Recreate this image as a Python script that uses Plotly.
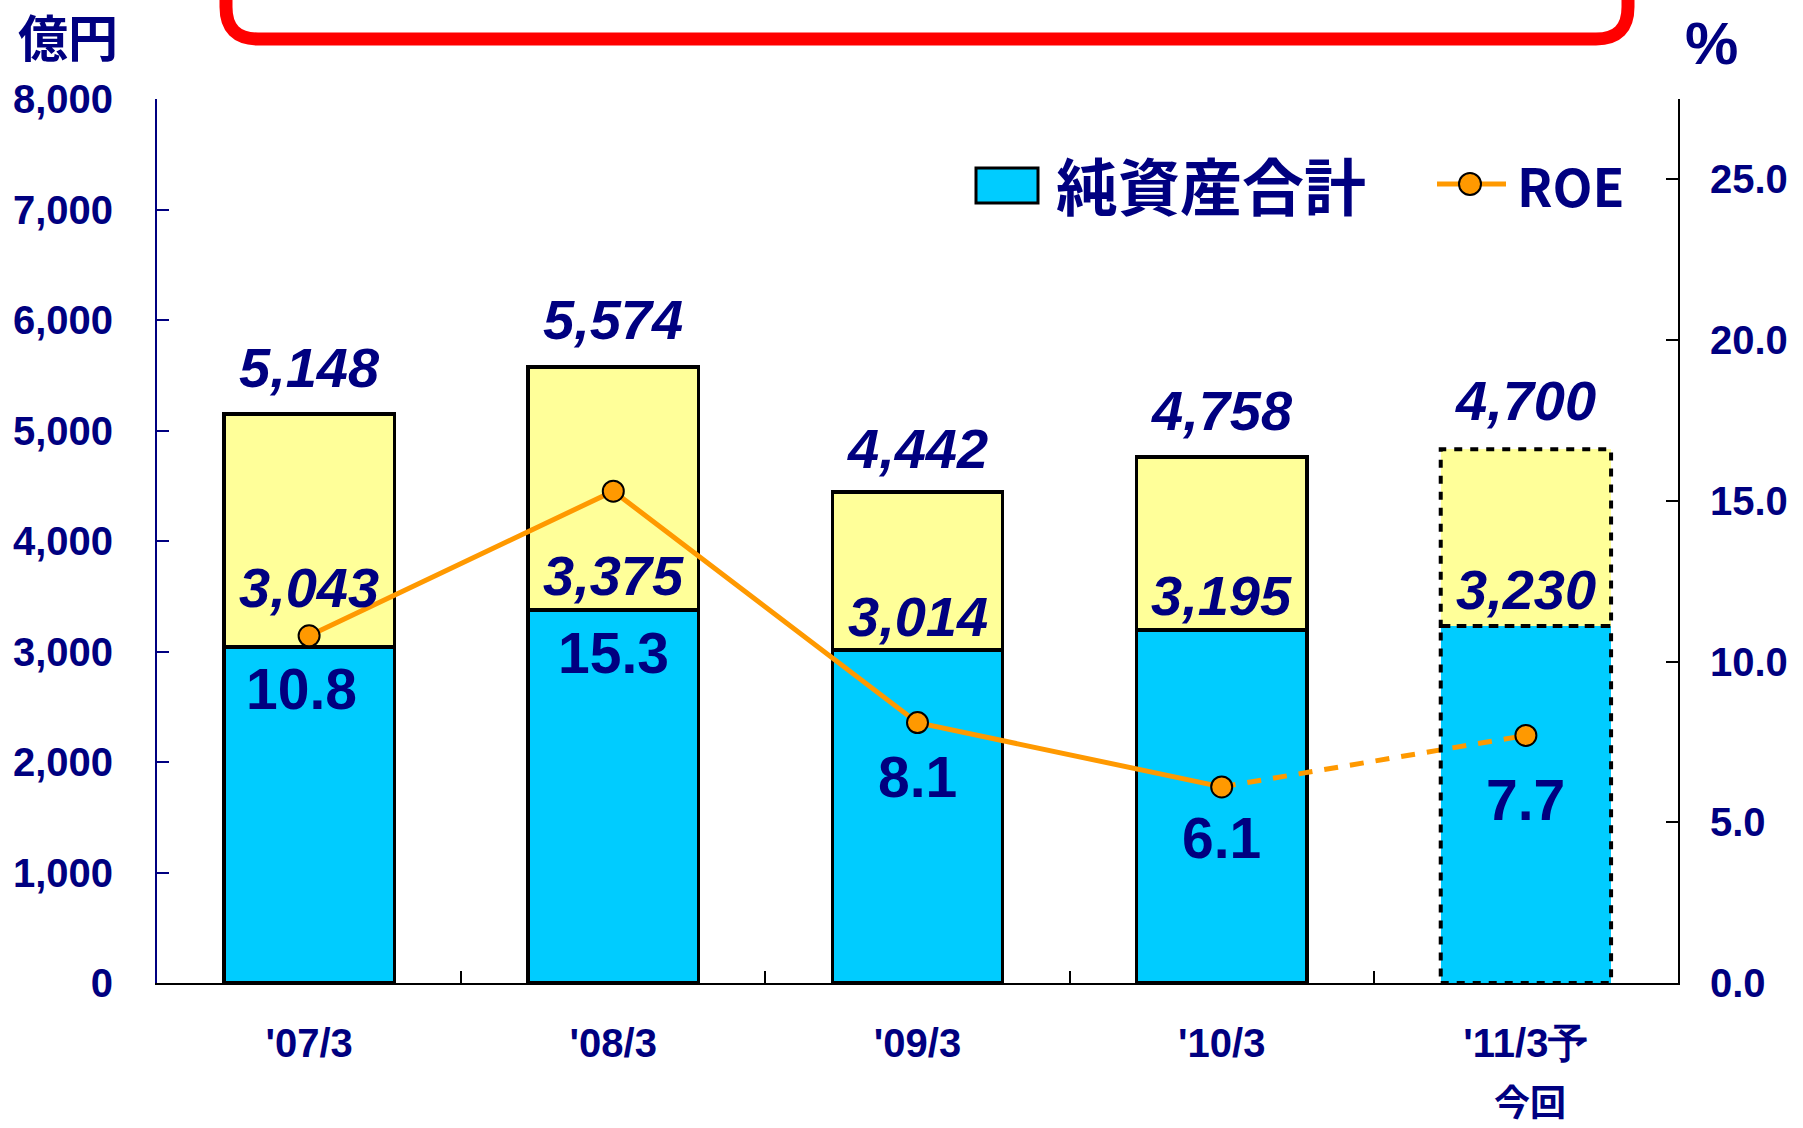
import plotly.graph_objects as go

# ---- data ----
categories = ["'07/3", "'08/3", "'09/3", "'10/3", "'11/3予"]
sub_labels = ["", "", "", "", "今回"]
equity = [3043, 3375, 3014, 3195, 3230]
total = [5148, 5574, 4442, 4758, 4830]          # drawn bar tops
total_labels = ["5,148", "5,574", "4,442", "4,758", "4,700"]
roe = [10.8, 15.3, 8.1, 6.1, 7.7]
forecast = [False, False, False, False, True]

# ---- style ----
NAVY = "#000080"
CYAN = "#00CCFF"
YELLOW = "#FFFF99"
ORANGE = "#FF9900"
NUMF = "Liberation Sans, Arial, sans-serif"
CJKF = "Noto Sans CJK JP, sans-serif"
BAR_W = 0.56

FW, FH = 1803, 1128
# plot area in pixels
L, R, T, B = 157, 1678, 99, 983
W, H = R - L, B - T
def PX(x): return (x - L) / W
def PY(y): return (B - y) / H

idx = list(range(len(categories)))
other = [t - e for t, e in zip(total, equity)]
line_w = [0 if f else 3.5 for f in forecast]

fig = go.Figure()
fig.add_trace(go.Bar(x=categories, y=equity, width=BAR_W,
                     marker=dict(color=CYAN, line=dict(color="black", width=line_w)),
                     showlegend=False, hoverinfo="skip"))
fig.add_trace(go.Bar(x=categories, y=other, width=BAR_W,
                     marker=dict(color=YELLOW, line=dict(color="black", width=line_w)),
                     showlegend=False, hoverinfo="skip"))

act = [i for i in idx if not forecast[i]]
fc = [act[-1]] + [i for i in idx if forecast[i]]
fig.add_trace(go.Scatter(x=[categories[i] for i in act], y=[roe[i] for i in act], yaxis="y2", mode="lines",
                         line=dict(color=ORANGE, width=5), showlegend=False, hoverinfo="skip"))
fig.add_trace(go.Scatter(x=[categories[i] for i in fc], y=[roe[i] for i in fc], yaxis="y2", mode="lines",
                         line=dict(color=ORANGE, width=5, dash="14px,12px"), showlegend=False, hoverinfo="skip"))
fig.add_trace(go.Scatter(x=categories, y=roe, yaxis="y2", mode="markers",
                         marker=dict(size=21, color=ORANGE, line=dict(color="black", width=2)),
                         showlegend=False, hoverinfo="skip"))

shapes = []
# dashed outline for forecast bar
for i in idx:
    if forecast[i]:
        for y0, y1 in [(0, equity[i]), (equity[i], total[i])]:
            shapes.append(dict(type="rect", xref="x", yref="y", x0=i - BAR_W / 2, x1=i + BAR_W / 2,
                               y0=y0, y1=y1, line=dict(color="black", width=4, dash="8px,8px")))

# red rounded frame at top (cut off)
xl, xr, yb, ytop, r = 226, 1628, 39, -40, 32
path = (f"M {PX(xl)},{PY(ytop)} L {PX(xl)},{PY(yb - r)} Q {PX(xl)},{PY(yb)} {PX(xl + r)},{PY(yb)} "
        f"L {PX(xr - r)},{PY(yb)} Q {PX(xr)},{PY(yb)} {PX(xr)},{PY(yb - r)} L {PX(xr)},{PY(ytop)}")
shapes.append(dict(type="path", xref="paper", yref="paper", path=path, line=dict(color="#FF0000", width=13)))

# custom legend
shapes.append(dict(type="rect", xref="paper", yref="paper", x0=PX(976), x1=PX(1038), y0=PY(203), y1=PY(168),
                   fillcolor=CYAN, line=dict(color="black", width=3)))
shapes.append(dict(type="line", xref="paper", yref="paper", x0=PX(1437), x1=PX(1506), y0=PY(184), y1=PY(184),
                   line=dict(color=ORANGE, width=5)))
shapes.append(dict(type="circle", xref="paper", yref="paper", x0=PX(1459), x1=PX(1481), y0=PY(195), y1=PY(173),
                   fillcolor=ORANGE, line=dict(color="black", width=2)))

ann = []
ann.append(dict(xref="paper", yref="paper", x=PX(1054), y=PY(184), xanchor="left", yanchor="middle",
                text="<b>純資産合計</b>", showarrow=False, font=dict(family=CJKF, size=62, color=NAVY)))
ann.append(dict(xref="paper", yref="paper", x=PX(1515), y=PY(184), xanchor="left", yanchor="middle",
                text="<b>ROE</b>", showarrow=False, font=dict(family=CJKF, size=52, color=NAVY)))

# axis titles
ann.append(dict(xref="paper", yref="paper", x=PX(68), y=PY(35), xanchor="center", yanchor="middle",
                text="<b>億円</b>", showarrow=False, font=dict(family=CJKF, size=50, color=NAVY)))
ann.append(dict(xref="paper", yref="paper", x=PX(1711), y=PY(43), xanchor="center", yanchor="middle",
                text="<b>%</b>", showarrow=False, font=dict(family=NUMF, size=60, color=NAVY)))

# value labels
tot_shift = [47, 48, 44, 47, 49]
eq_shift = [59, 35, 33, 34, 37]
roe_shift = [-53, -162, -54, -51, -65]
roe_xshift = [-8, 0, 0, 0, 0]
for i in idx:
    ann.append(dict(x=i, y=total[i], xref="x", yref="y", text=f"<b><i>{total_labels[i]}</i></b>", showarrow=False,
                    yshift=tot_shift[i], yanchor="middle", font=dict(family=NUMF, size=56, color=NAVY)))
    ann.append(dict(x=i, y=equity[i], xref="x", yref="y", text=f"<b><i>{equity[i]:,}</i></b>", showarrow=False,
                    yshift=eq_shift[i], yanchor="middle", font=dict(family=NUMF, size=56, color=NAVY)))
    ann.append(dict(x=i, y=roe[i], xref="x", yref="y2", text=f"<b>{roe[i]:.1f}</b>", showarrow=False,
                    yshift=roe_shift[i], xshift=roe_xshift[i], yanchor="middle",
                    font=dict(family=NUMF, size=57, color=NAVY)))
    if sub_labels[i]:
        ann.append(dict(x=i, y=PY(1100), xref="x", yref="paper", text=f"<b>{sub_labels[i]}</b>", showarrow=False,
                        xshift=4, yanchor="middle", font=dict(family=CJKF, size=36, color=NAVY)))

fig.update_layout(
    width=FW, height=FH,
    margin=dict(l=L, r=FW - R, t=T, b=FH - B),
    paper_bgcolor="white", plot_bgcolor="white",
    barmode="stack", showlegend=False,
    shapes=shapes, annotations=ann,
    xaxis=dict(type="category", categoryorder="array", categoryarray=categories, range=[-0.5, len(idx) - 0.5],
               showline=True, linecolor="black", linewidth=2, ticks="inside", tickson="boundaries",
               ticklen=12, tickcolor="black", tickwidth=2, showgrid=False, zeroline=False,
               tickfont=dict(family=NUMF, size=40, color=NAVY, weight="bold"), ticklabelstandoff=24),
    yaxis=dict(range=[0, 8000], dtick=1000, tickformat=",", showline=True, linecolor=NAVY, linewidth=2,
               ticks="inside", ticklen=12, tickcolor=NAVY, tickwidth=2, showgrid=False, zeroline=False,
               tickfont=dict(family=NUMF, size=40, color=NAVY, weight="bold"),
               ticklabelstandoff=34),
    yaxis2=dict(range=[0, 27.5], dtick=5, tickformat=".1f", overlaying="y", side="right", showline=True,
                linecolor="black", linewidth=2, ticks="inside", ticklen=12, tickcolor="black", tickwidth=2,
                showgrid=False, zeroline=False, tickfont=dict(family=NUMF, size=40, color=NAVY, weight="bold"),
                ticklabelstandoff=22),
)

fig.write_html("out.html", config={"displayModeBar": False},
               post_script="document.body.style.margin='0';document.body.style.overflow='hidden';")
